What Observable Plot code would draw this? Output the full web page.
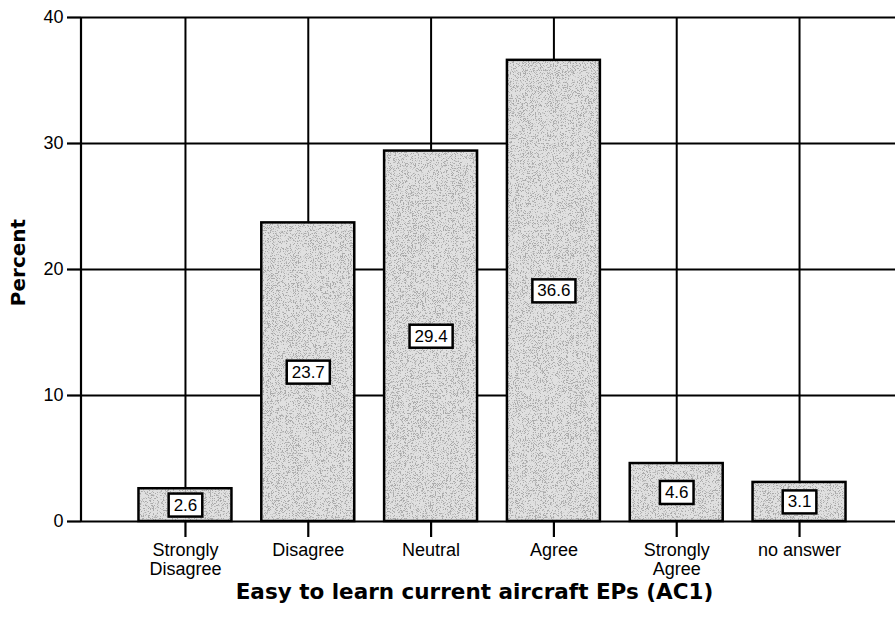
<!DOCTYPE html>
<html>
<head>
<meta charset="utf-8">
<script src="https://cdn.jsdelivr.net/npm/d3@7"></script>
<script src="https://cdn.jsdelivr.net/npm/@observablehq/plot@0.6"></script>
<style>
  html, body { margin: 0; padding: 0; background: white; }
  #chart svg { display: block; }
</style>
</head>
<body>
<div id="chart"></div>
<script>
const categories = ["Strongly Disagree", "Disagree", "Neutral", "Agree", "Strongly Agree", "no answer"];
const tickLabels = ["Strongly\nDisagree", "Disagree", "Neutral", "Agree", "Strongly\nAgree", "no answer"];
const percents = [2.6, 23.7, 29.4, 36.6, 4.6, 3.1];
const yTicks = [0, 10, 20, 30, 40];
const xTitle = "Easy to learn current aircraft EPs (AC1)";
const yTitle = "Percent";

const data = categories.map((c, i) => ({category: c, value: percents[i], label: percents[i].toFixed(1)}));

const leftLine = (index, scales, values, dims) => {
  const g = d3.create("svg:g");
  g.append("line")
    .attr("x1", dims.marginLeft).attr("x2", dims.marginLeft)
    .attr("y1", scales.y(40)).attr("y2", scales.y(0))
    .attr("stroke", "black").attr("stroke-width", 2.2);
  return g.node();
};

const titleFont = "'DejaVu Sans', Verdana, sans-serif";

const chart = Plot.plot({
  width: 895,
  height: 626,
  marginLeft: 81,
  marginRight: 0,
  marginTop: 17,
  marginBottom: 105,
  style: {fontFamily: "'Liberation Sans', Arial, Helvetica, sans-serif", color: "black", background: "white"},
  x: {domain: categories, range: [81, 903], paddingInner: 0.243, paddingOuter: 0.468, round: false},
  y: {domain: [0, 40]},
  marks: [
    Plot.ruleY(yTicks, {stroke: "black", strokeWidth: 2.2}),
    Plot.ruleX(categories, {x: d => d, y1: 0, y2: 40, stroke: "black", strokeWidth: 2}),
    leftLine,
    Plot.barY(data, {x: "category", y: "value", fill: "#e0e0e0"}),
    Plot.barY(data, {x: "category", y: "value", fill: "none", stroke: "black", strokeWidth: 2.5}),
    Plot.axisY({ticks: yTicks, tickSize: 14, tickPadding: 4, fontSize: 18, label: null, strokeWidth: 2.2}),
    Plot.axisX({tickSize: 16, tickPadding: 5, fontSize: 18, lineHeight: 1.06, label: null, strokeWidth: 2.2,
      tickFormat: d => tickLabels[categories.indexOf(d)]}),
    Plot.text(data, {x: "category", y: d => d.value / 2, text: "label", fontSize: 17}),
    Plot.text([xTitle], {frameAnchor: "bottom", textAnchor: "middle", lineAnchor: "middle", dy: 71, dx: -14,
      fontSize: 21.5, fontWeight: "bold", fontFamily: titleFont}),
    Plot.text([yTitle], {frameAnchor: "left", textAnchor: "middle", lineAnchor: "middle", rotate: -90, dx: -63, dy: -7,
      fontSize: 20, fontWeight: "bold", fontFamily: titleFont})
  ]
});

document.getElementById("chart").appendChild(chart);

const svg = d3.select(chart);

// stipple texture filter for the bar fill
const defs = svg.insert("defs", ":first-child");
const f = defs.append("filter").attr("id", "stipple")
  .attr("filterUnits", "userSpaceOnUse").attr("x", 0).attr("y", 0).attr("width", 895).attr("height", 626);
f.append("feTurbulence").attr("type", "fractalNoise").attr("baseFrequency", 1.4).attr("numOctaves", 1).attr("seed", 11).attr("result", "noise");
f.append("feColorMatrix").attr("in", "noise").attr("type", "matrix")
  .attr("values", "0 0 0 0 0.4  0 0 0 0 0.4  0 0 0 0 0.4  -10 0 0 0 4.7").attr("result", "dots");
f.append("feComposite").attr("in", "dots").attr("in2", "SourceGraphic").attr("operator", "in").attr("result", "clipped");
const m = f.append("feMerge");
m.append("feMergeNode").attr("in", "SourceGraphic");
m.append("feMergeNode").attr("in", "clipped");
const barGroups = svg.selectAll("g[aria-label='bar']").nodes();
if (barGroups.length) barGroups[0].setAttribute("filter", "url(#stipple)");

// white boxes behind value labels (first text mark)
const textGroups = svg.selectAll("g[aria-label='text']").nodes();
if (textGroups.length) {
  d3.select(textGroups[0]).selectAll("text").each(function() {
    const b = this.getBBox();
    const r = document.createElementNS("http://www.w3.org/2000/svg", "rect");
    r.setAttribute("x", b.x - 5);
    r.setAttribute("y", b.y - 2);
    r.setAttribute("width", b.width + 10);
    r.setAttribute("height", b.height + 4);
    r.setAttribute("fill", "white");
    r.setAttribute("stroke", "black");
    r.setAttribute("stroke-width", 2.5);
    const t = this.getAttribute("transform");
    if (t) r.setAttribute("transform", t);
    this.parentNode.insertBefore(r, this);
  });
}
</script>
</body>
</html>
